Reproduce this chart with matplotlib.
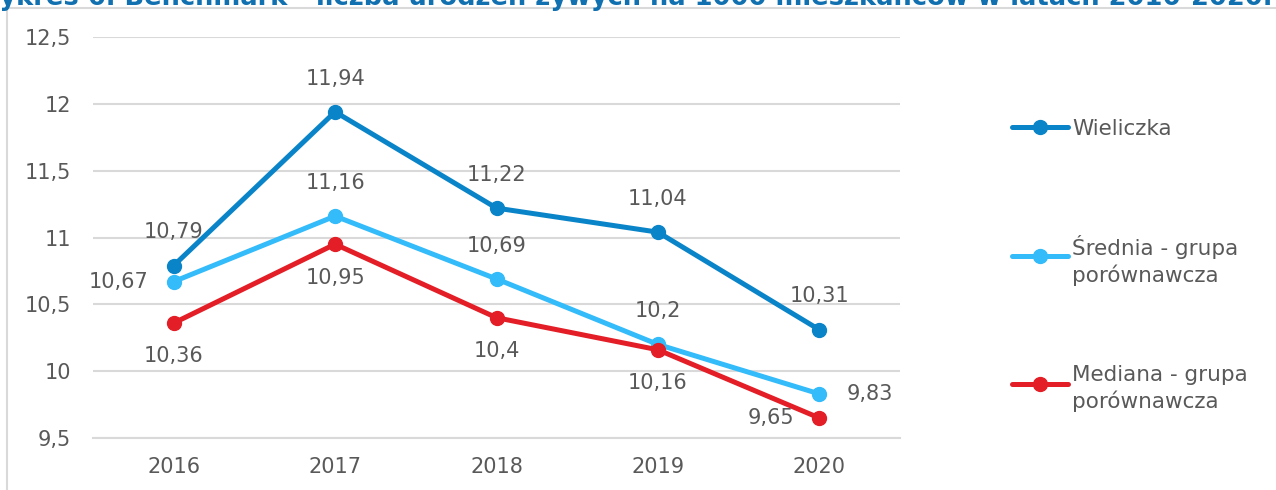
import matplotlib.pyplot as plt
from matplotlib.lines import Line2D
from matplotlib.patches import Rectangle

lata = ['2016', '2017', '2018', '2019', '2020']
wieliczka = [10.79, 11.94, 11.22, 11.04, 10.31]
srednia = [10.67, 11.16, 10.69, 10.2, 9.83]
mediana = [10.36, 10.95, 10.4, 10.16, 9.65]

etykiety = ['Wieliczka', 'Średnia - grupa\nporównawcza', 'Mediana - grupa\nporównawcza']
kolory = ['#0A84C8', '#33BBFA', '#E31E26']

# pozycje etykiet danych (jak w oryginale)
pozycje = [
    ['top', 'top', 'top', 'top', 'top'],
    ['left', 'top', 'top', 'top', 'right'],
    ['bottom', 'bottom', 'bottom', 'bottom', 'left'],
]
przesun = {'top': (0, 24), 'bottom': (0, -24), 'left': (-18, 0), 'right': (20, 0)}
wyrown = {'top': ('center', 'center'), 'bottom': ('center', 'center'),
          'left': ('right', 'center'), 'right': ('left', 'center')}

szary = '#595959'
plt.rcParams['font.family'] = ['DejaVu Sans']

fig = plt.figure(figsize=(12.76, 4.90), dpi=100)
ax = fig.add_axes([93 / 1276, 52 / 490, 807 / 1276, 401 / 490])

# ramka wykresu
fig.add_artist(Rectangle((7 / 1276, -0.1), 1.2, 1 - 8 / 490 + 0.1,
                         transform=fig.transFigure, fill=False,
                         edgecolor='#d9d9d9', linewidth=1.5))

# tytuł (ucięty u góry, jak w oryginale)
fig.text(0.487, 1 - 5 / 490,
         'Wykres 6. Benchmark - liczba urodzeń żywych na 1000 mieszkańców w latach 2016-2020.',
         ha='center', va='baseline', fontsize=18.5, fontweight='bold', color='#1070B0')

x = list(range(len(lata)))
for seria, kolor, poz in zip([wieliczka, srednia, mediana], kolory, pozycje):
    ax.plot(x, seria, color=kolor, linewidth=3.6, marker='o', markersize=10,
            solid_capstyle='round', zorder=3)
    for xi, yi, p in zip(x, seria, poz):
        ha, va = wyrown[p]
        ax.annotate(f'{yi:g}'.replace('.', ','), (xi, yi), xytext=przesun[p],
                    textcoords='offset points', ha=ha, va=va,
                    fontsize=15, color=szary, zorder=4)

ax.set_xlim(-0.5, len(lata) - 0.5)
ax.set_ylim(9.5, 12.5)
ax.set_yticks([9.5, 10, 10.5, 11, 11.5, 12, 12.5])
ax.set_yticklabels(['9,5', '10', '10,5', '11', '11,5', '12', '12,5'])
ax.set_xticks(x)
ax.set_xticklabels(lata)
ax.tick_params(axis='both', length=0, labelsize=15, labelcolor=szary)
ax.tick_params(axis='x', pad=14)
ax.tick_params(axis='y', pad=16)
ax.grid(axis='y', color='#d9d9d9', linewidth=1.5)
ax.set_axisbelow(True)
for s in ['top', 'right', 'left']:
    ax.spines[s].set_visible(False)
ax.spines['bottom'].set_color('#d9d9d9')
ax.spines['bottom'].set_linewidth(1.5)

# legenda
leg_y = [127, 256, 384]
for ly, kolor, tekst in zip(leg_y, kolory, etykiety):
    yf = 1 - ly / 490
    fig.add_artist(Line2D([1012 / 1276, 1068 / 1276], [yf, yf], transform=fig.transFigure,
                          color=kolor, linewidth=3.6, solid_capstyle='round'))
    fig.add_artist(Line2D([1040 / 1276], [yf], transform=fig.transFigure,
                          color=kolor, marker='o', markersize=10))
    fig.text(1072 / 1276, yf, tekst, ha='left', va='center_baseline',
             fontsize=15.5, color=szary, linespacing=1.3)

fig.savefig('out.png', dpi=100)
